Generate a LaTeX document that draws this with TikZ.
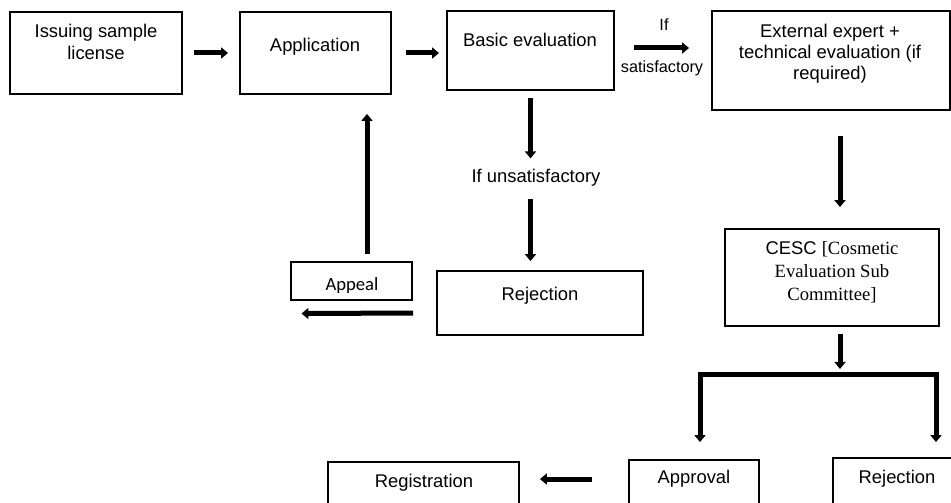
\documentclass[tikz,border=0pt]{standalone}
\usepackage{fontspec}
\setmainfont{Liberation Sans}
\newfontfamily\tnr{Liberation Serif}
\newfontfamily\clb{Carlito}
\usetikzlibrary{arrows.meta,fit,calc}
\begin{document}
\begin{tikzpicture}[x=0.75pt,y=-0.75pt,
  box/.style={draw, line width=1.4pt, inner sep=0pt},
  thinbox/.style={draw, line width=0.8pt, inner sep=0pt},
  txt/.style={inner sep=0pt, anchor=base, align=center, font=\fontsize{13.8}{16.5}\selectfont},
  smalltxt/.style={inner sep=0pt, anchor=base, font=\fontsize{12.2}{14}\selectfont},
  arr/.style={line width=3.75pt, -{Triangle[width=8.25pt,length=5.25pt]}},
]
\clip (0,0) rectangle (951,503);
\fill[white] (0,0) rectangle (951,503);

% boxes
\node[box, fit={(10,12) (182,94)}] (issue) {};
\node[box, fit={(240,12) (391,94)}] (app) {};
\node[box, fit={(447,11) (614,90)}] (basic) {};
\node[box, fit={(712,11) (950,110)}] (ext) {};
\node[box, fit={(725,229) (939,326)}] (cesc) {};
\node[box, fit={(437,271) (643,335)}] (rej1) {};
\node[thinbox, fit={(291,262) (412,300)}] (appeal) {};
\node[box, fit={(629,460) (759,530)}] (approval) {};
\node[box, fit={(833,458) (961,530)}] (rej2) {};
\node[box, fit={(328,462) (519,530)}] (reg) {};

% texts (base anchor of a multi-line text is its last line)
\node[txt] (tissue) at (96,60) {Issuing sample\\license};
\node[txt] (tapp) at (315,52) {Application};
\node[txt] (tbasic) at (530,47) {Basic evaluation};
\node[txt, font=\fontsize{13.8}{16.1}\selectfont] (text) at (830,80) {External expert +\\technical evaluation (if\\required)};
\node[txt, font=\tnr\fontsize{14}{17}\selectfont] (tcesc) at (832,300) {{\fontspec{Liberation Sans}\fontsize{13.8}{17}\selectfont CESC }[Cosmetic\\Evaluation Sub\\Committee]};
\node[txt] (trej1) at (540,300) {Rejection};
\node[txt, font=\clb\fontsize{14}{17}\selectfont] (tappeal) at (352,290) {Appeal};
\node[txt] (tapproval) at (694,483) {Approval};
\node[txt] (trej2) at (897,483) {Rejection};
\node[txt] (treg) at (424,487) {Registration};
\node[txt] (unsat) at (536,182) {If unsatisfactory};
\node[smalltxt] (if) at (664,31) {If};
\node[smalltxt] (sat) at (662,73) {satisfactory};

% connectors
\draw[arr] ($(issue.east)+(11,0)$) -- ($(app.west)+(-11,0)$);
\draw[arr] ($(app.east)+(14,0)$) -- ($(basic.west|-app.east)+(-7,0)$);
\draw[arr] ($(basic.east)+(19,-2.5)$) -- ($(ext.west|-basic.east)+(-22,-2.5)$);
\draw[arr] ($(basic.south)+(0,7)$) -- ($(basic.south|-unsat.north)+(0,-10)$);
\draw[arr] ($(basic.south|-unsat.south)+(0,13)$) -- ($(basic.south|-rej1.north)+(0,-9)$);
\draw[arr] ($(rej1.west)+(-23,10)$) -- ($(appeal.south west)+(11,13)$);
\draw[arr] ($(appeal.north)+(15.5,-7)$) -- ($(app.south)+(51.5,19)$);
\draw[arr] ($(ext.south)+(9,25)$) -- ($(cesc.north)+(8,-21)$);
\coordinate (split) at ($(cesc.south)+(8,48)$);
\draw[arr] ($(cesc.south)+(8,7)$) -- ($(split)+(0,-6)$);
\draw[line width=3.75pt, {Triangle[width=8.25pt,length=5.25pt]}-{Triangle[width=8.25pt,length=5.25pt]}]
  ($(approval.north)+(6,-17)$) |- (split) -| ($(rej2.north)+(39,-15)$);
\draw[arr] ($(approval.north west)+(-36,20)$) -- ($(reg.north east)+(20,18)$);
\end{tikzpicture}
\end{document}
